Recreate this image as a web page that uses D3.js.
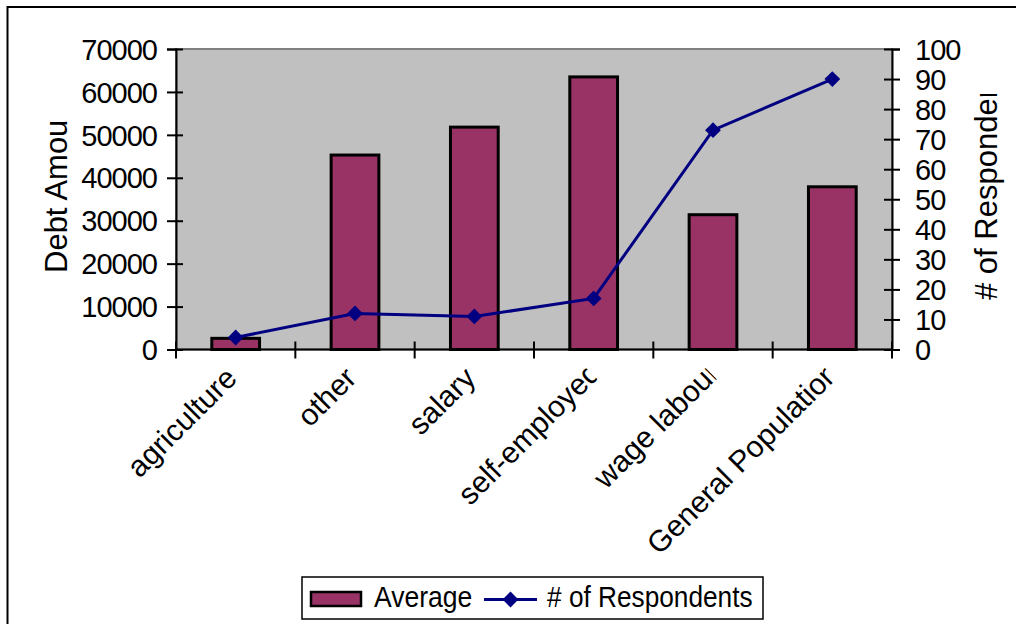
<!DOCTYPE html>
<html>
<head>
<meta charset="utf-8">
<script src="https://cdn.jsdelivr.net/npm/d3@7"></script>
<style>
  html, body { margin: 0; padding: 0; background: #fff; }
  svg { display: block; font-family: "Liberation Sans", Arial, sans-serif; }
</style>
</head>
<body>
<svg id="chart" width="1016" height="624"></svg>
<script>
// ---- data ----
const categories = ["agriculture", "other", "salary", "self-employed", "wage labour", "General Population"];
const averageDebt = [2600, 45300, 51800, 63500, 31400, 37900];
const respondents = [4, 12, 11, 17, 73, 90];
const debtTicks = [0, 10000, 20000, 30000, 40000, 50000, 60000, 70000];
const respondentTicks = [0, 10, 20, 30, 40, 50, 60, 70, 80, 90, 100];
const seriesNames = ["Average", "# of Respondents"];
const axisTitles = ["Debt Amount", "# of Respondents"];

// ---- layout ----
const svg = d3.select("#chart");
const plot = { left: 176, right: 892, top: 49, bottom: 349.5 };
const barColor = "#993366";
const lineColor = "#000080";

const x = d3.scaleBand().domain(categories).range([plot.left, plot.right]).padding(0);
const yDebt = d3.scaleLinear().domain([0, 70000]).range([plot.bottom, plot.top]);
const yResp = d3.scaleLinear().domain([0, 100]).range([plot.bottom, plot.top]);
const center = c => x(c) + x.bandwidth() / 2;
const barW = x.bandwidth() * 0.4;

// outer chart frame
svg.append("rect")
  .attr("x", 7.5).attr("y", 7).attr("width", 1040).attr("height", 660)
  .attr("fill", "none").attr("stroke", "#000").attr("stroke-width", 2);

// plot area
svg.append("rect")
  .attr("x", plot.left).attr("y", plot.top)
  .attr("width", plot.right - plot.left).attr("height", plot.bottom - plot.top)
  .attr("fill", "#C0C0C0").attr("stroke", "#808080").attr("stroke-width", 2);

// bars
svg.append("g").selectAll("rect")
  .data(categories.map((c, i) => ({ c, v: averageDebt[i] })))
  .join("rect")
  .attr("x", d => center(d.c) - barW / 2)
  .attr("y", d => yDebt(d.v))
  .attr("width", barW)
  .attr("height", d => yDebt(0) - yDebt(d.v))
  .attr("fill", barColor)
  .attr("stroke", "#000").attr("stroke-width", 3);

// axes with crossing tick marks
function styleAxis(g, cross) {
  g.select(".domain").attr("stroke", "#000").attr("stroke-width", 2);
  g.selectAll(".tick line").attr("stroke", "#000").attr("stroke-width", 2);
  cross(g.selectAll(".tick line"));
  g.selectAll(".tick text").attr("fill", "#000")
    .style("font-size", "29px").style("letter-spacing", "-1px");
}

const gLeft = svg.append("g").attr("transform", `translate(${plot.left},0)`)
  .call(d3.axisLeft(yDebt).tickValues(debtTicks).tickSizeOuter(0).tickSize(9).tickPadding(10).tickFormat(d3.format("d")));
styleAxis(gLeft, l => l.attr("x1", 7).attr("x2", -9));
gLeft.selectAll(".tick text").attr("dy", "0.35em").attr("x", -19);

const gRight = svg.append("g").attr("transform", `translate(${plot.right},0)`)
  .call(d3.axisRight(yResp).tickValues(respondentTicks).tickSizeOuter(0).tickSize(8).tickPadding(14).tickFormat(d3.format("d")));
styleAxis(gRight, l => l.attr("x1", -8).attr("x2", 8));
gRight.selectAll(".tick text").attr("dy", "0.35em").attr("x", 23);

// category boundaries on the x axis
const boundaries = categories.map(c => x(c)).concat([plot.right]);
const gBottom = svg.append("g");
gBottom.append("line")
  .attr("x1", plot.left - 1).attr("x2", plot.right + 1)
  .attr("y1", plot.bottom).attr("y2", plot.bottom)
  .attr("stroke", "#000").attr("stroke-width", 2);
gBottom.selectAll("line.tick").data(boundaries).join("line").attr("class", "tick")
  .attr("x1", d => d).attr("x2", d => d)
  .attr("y1", plot.bottom - 8).attr("y2", plot.bottom + 9)
  .attr("stroke", "#000").attr("stroke-width", 2);

// respondents line + diamond markers
const pts = categories.map((c, i) => ({ c, v: respondents[i] }));
svg.append("path")
  .datum(pts)
  .attr("fill", "none").attr("stroke", lineColor).attr("stroke-width", 3)
  .attr("d", d3.line().x(d => center(d.c)).y(d => yResp(d.v)));
const diamond = d3.symbol(d3.symbolSquare, 125);
svg.append("g").selectAll("path")
  .data(pts).join("path")
  .attr("d", diamond)
  .attr("transform", d => `translate(${center(d.c)},${yResp(d.v)}) rotate(45)`)
  .attr("fill", lineColor);

// rotated category labels; labels too long for their slot get cut at the end
const defs = svg.append("defs");
const labelMaxWidth = 150;
categories.forEach((c, i) => {
  const id = "lblclip" + i;
  defs.append("clipPath").attr("id", id)
    .append("rect").attr("x", -600).attr("y", -60).attr("width", 601).attr("height", 100);
  const g = svg.append("g")
    .attr("transform", `translate(${center(c) + 3},380) rotate(-45)`)
    .attr("clip-path", `url(#${id})`);
  const t = g.append("text").text(c)
    .attr("text-anchor", "end").attr("fill", "#000")
    .style("font-size", "30px");
  if (t.node().getComputedTextLength() > labelMaxWidth) t.attr("x", 8);
});

// axis titles (clipped to their boxes)
defs.append("clipPath").attr("id", "ttlL")
  .append("rect").attr("x", 0).attr("y", 120).attr("width", 120).attr("height", 300);
defs.append("clipPath").attr("id", "ttlR")
  .append("rect").attr("x", 940).attr("y", 94).attr("width", 76).attr("height", 300);

svg.append("g").attr("clip-path", "url(#ttlL)")
  .append("g").attr("transform", "translate(67,273) rotate(-90)")
  .append("text").text(axisTitles[0]).attr("fill", "#000").style("font-size", "31px");
svg.append("g").attr("clip-path", "url(#ttlR)")
  .append("g").attr("transform", "translate(997,300) rotate(-90)")
  .append("text").text(axisTitles[1]).attr("fill", "#000").style("font-size", "31px");

// legend
const lg = svg.append("g");
lg.append("rect").attr("x", 302).attr("y", 577).attr("width", 461).attr("height", 42)
  .attr("fill", "#fff").attr("stroke", "#000").attr("stroke-width", 1.5);
lg.append("rect").attr("x", 311).attr("y", 592).attr("width", 50).attr("height", 14)
  .attr("fill", barColor).attr("stroke", "#000").attr("stroke-width", 2.5);
lg.append("text").text(seriesNames[0])
  .attr("transform", "translate(374,607) scale(0.915,1)")
  .attr("fill", "#000").style("font-size", "29px");
lg.append("line").attr("x1", 484).attr("x2", 537).attr("y1", 599.5).attr("y2", 599.5)
  .attr("stroke", lineColor).attr("stroke-width", 3);
lg.append("path").attr("d", diamond)
  .attr("transform", "translate(510.5,599.5) rotate(45)").attr("fill", lineColor);
lg.append("text").text(seriesNames[1])
  .attr("transform", "translate(547,607) scale(0.905,1)")
  .attr("fill", "#000").style("font-size", "29px");
</script>
</body>
</html>
